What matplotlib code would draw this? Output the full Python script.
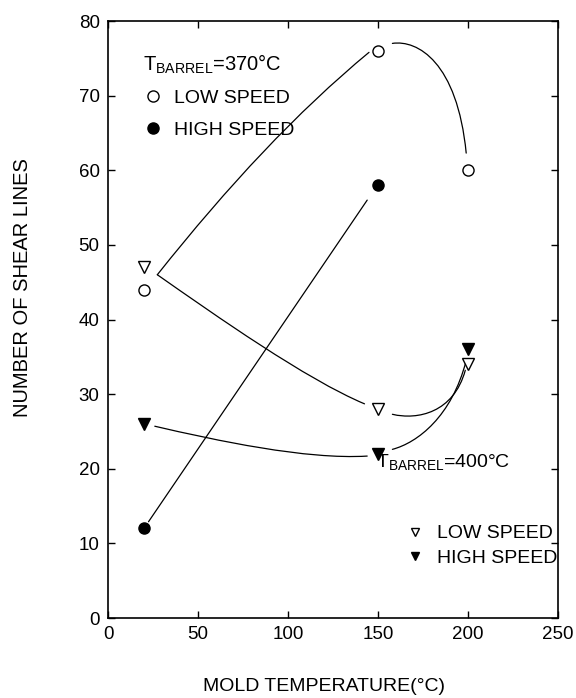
import matplotlib
matplotlib.use("Agg")
import matplotlib.pyplot as plt
from matplotlib.path import Path
from matplotlib.patches import PathPatch
from matplotlib.lines import Line2D

plt.rcParams['font.family'] = ['Liberation Sans', 'DejaVu Sans']
plt.rcParams['mathtext.fontset'] = 'custom'
plt.rcParams['mathtext.rm'] = 'Liberation Sans'
plt.rcParams['mathtext.it'] = 'Liberation Sans:italic'
plt.rcParams['mathtext.bf'] = 'Liberation Sans:bold'

# measured points (mold temperature in C, number of shear lines)
mold_temp = [20, 150, 200]
low_370 = [44, 76, 60]
high_370_temp = [20, 150]
high_370 = [12, 58]
low_400 = [47, 28, 34]
high_400 = [26, 22, 36]

# hand-drawn trend curves
# each segment: 4 nodes -> cubic bezier, 2 nodes -> straight line
low_370_curve = [[(27.4, 46), (67, 58), (105, 67.8), (145, 75.8)],
                 [(158, 77), (172, 77.5), (194, 74.5), (199, 62.3)]]
high_370_curve = [[(22.5, 12.9), (144, 56)]]
low_400_curve = [[(27.4, 46), (60, 40.5), (110, 32), (142.5, 28.7)],
                 [(158, 27.3), (172, 26.5), (192, 27.5), (198.5, 33.2)]]
high_400_curve = [[(26, 25.7), (60, 23.8), (110, 21.2), (144, 21.7)],
                  [(158, 22.6), (172, 23.5), (191, 27), (199, 34.5)]]

x_ticks = [0, 50, 100, 150, 200, 250]
y_ticks = [0, 10, 20, 30, 40, 50, 60, 70, 80]


def draw_curve(ax, segments):
    for seg in segments:
        if len(seg) == 4:
            codes = [Path.MOVETO, Path.CURVE4, Path.CURVE4, Path.CURVE4]
        else:
            codes = [Path.MOVETO, Path.LINETO]
        ax.add_patch(PathPatch(Path(seg, codes), fill=False, lw=0.9,
                               edgecolor='black', capstyle='round'))


fig = plt.figure(figsize=(5.76, 6.98), dpi=100)
ax = fig.add_axes([0.1875, 0.1146, 0.78125, 0.8553])

for curve in (low_370_curve, high_370_curve, low_400_curve, high_400_curve):
    draw_curve(ax, curve)

ms = 8
ax.plot(mold_temp, low_370, 'o', ls='none', mfc='white', mec='black', ms=ms, mew=1)
ax.plot(high_370_temp, high_370, 'o', ls='none', mfc='black', mec='black', ms=ms)
ax.plot(mold_temp, low_400, 'v', ls='none', mfc='white', mec='black', ms=ms + 1, mew=1)
ax.plot(mold_temp, high_400, 'v', ls='none', mfc='black', mec='black', ms=ms + 1)

ax.set_xlim(0, 250)
ax.set_ylim(0, 80)
ax.set_xticks(x_ticks)
ax.set_yticks(y_ticks)
ax.tick_params(direction='in', top=True, right=True, length=5, width=1,
               labelsize=13.5, pad=6)
for sp in ax.spines.values():
    sp.set_linewidth(1.2)

ax.set_xlabel('MOLD TEMPERATURE(°C)', fontsize=14, va='center')
ax.xaxis.set_label_coords(0.48, -0.114)
ax.set_ylabel('NUMBER OF SHEAR LINES', fontsize=14.5, va='center')
ax.yaxis.set_label_coords(-0.19, 0.553)

h_370 = [Line2D([], [], ls='none', marker='o', mfc='white', mec='black', ms=ms),
         Line2D([], [], ls='none', marker='o', mfc='black', mec='black', ms=ms)]
leg1 = ax.legend(h_370, ['LOW SPEED', 'HIGH SPEED'],
                 title='T$_{\\mathrm{BARREL}}$=370°C', title_fontsize=14.5,
                 loc='upper left', bbox_to_anchor=(0.060, 0.9615),
                 frameon=False, fontsize=14, handlelength=1,
                 handletextpad=0.6, labelspacing=0.72, borderpad=0.43,
                 borderaxespad=0, alignment='left')
ax.add_artist(leg1)

h_400 = [Line2D([], [], ls='none', marker='v', mfc='white', mec='black', ms=ms),
         Line2D([], [], ls='none', marker='v', mfc='black', mec='black', ms=ms)]
ax.legend(h_400, ['LOW SPEED', 'HIGH SPEED'], loc='upper left',
          bbox_to_anchor=(0.661, 0.156), frameon=False, fontsize=14,
          handlelength=1, handletextpad=0.6, labelspacing=0.35,
          borderpad=0, borderaxespad=0, markerscale=0.8)

ax.text(148.7, 20.2, 'T$_{\\mathrm{BARREL}}$=400°C', fontsize=14,
        ha='left', va='baseline')

fig.savefig('out.png', dpi=100)
plt.close(fig)
